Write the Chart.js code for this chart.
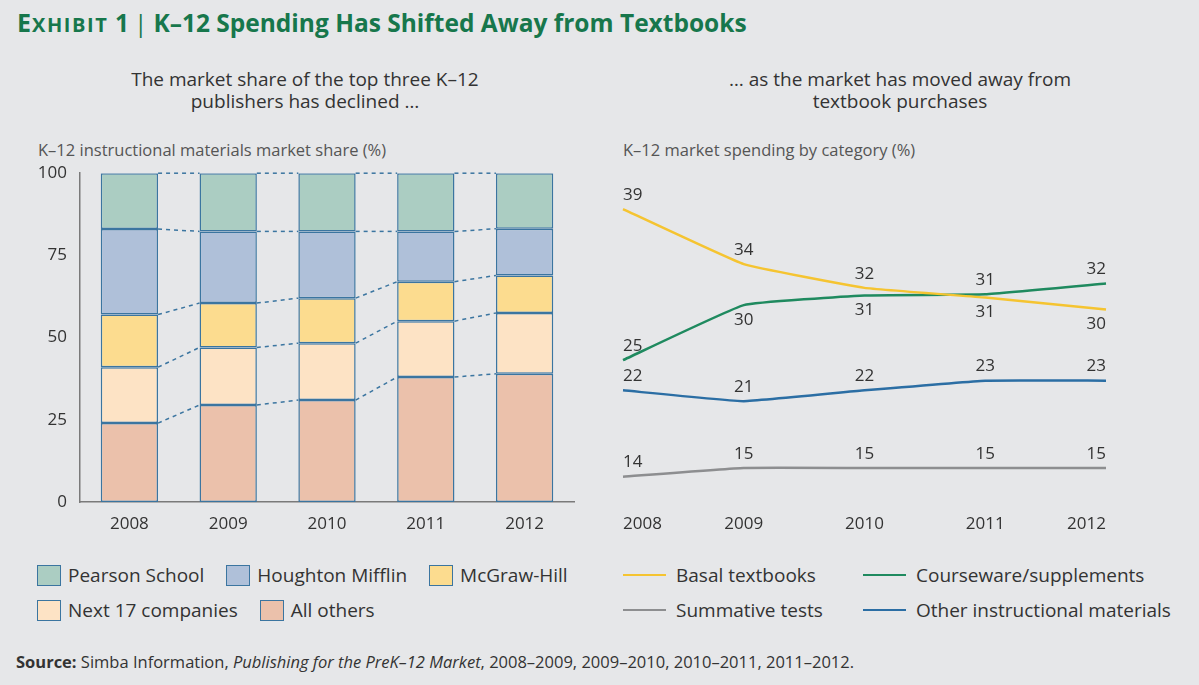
<!DOCTYPE html>
<html>
<head>
<meta charset="utf-8">
<script src="https://cdn.jsdelivr.net/npm/chart.js@4.4.1/dist/chart.umd.min.js"></script>
<style>
  body { margin: 0; background: #e6e7e9; font-family: "Open Sans", sans-serif; color: #333; }
  #page { position: relative; width: 1199px; height: 685px; overflow: hidden; background: #e6e7e9; }
  .abs { position: absolute; white-space: nowrap; }
  #title { left: 17px; top: 5px; font-size: 24.5px; font-weight: 700; color: #17774c; }
  #title .cap { font-size: 25px; letter-spacing: 1px; }
  #title .sc { font-size: 20px; letter-spacing: 1.6px; }
  #title .bar { font-weight: 400; margin: 0 6px 0 5px; }
  .sub { font-size: 19px; line-height: 22px; text-align: center; color: #333; }
  #subLeft { left: 105px; top: 68px; width: 400px; }
  #subRight { left: 700px; top: 68px; width: 400px; }
  .axTitle { font-size: 16.5px; color: #555; top: 138px; }
  #axLeft { left: 38px; }
  #axRight { left: 623px; }
  .wrap { position: absolute; }
  #wrapLeft { left: 0; top: 150px; width: 590px; height: 400px; }
  #wrapRight { left: 600px; top: 160px; width: 599px; height: 390px; }
  .legend { position: absolute; top: 563px; font-size: 19px; color: #333; }
  #legendLeft { left: 37px; }
  #legendRight { left: 623px; display: grid; grid-template-columns: 240px 330px; row-gap: 11px; }
  .lrow { display: flex; height: 24px; align-items: center; margin-bottom: 11px; }
  .litem { display: flex; align-items: center; margin-right: 22px; height: 24px; white-space: nowrap; }
  .box { width: 24px; height: 21px; border: 1.5px solid #3b75a0; box-sizing: border-box; margin-right: 7px; flex-shrink: 0; }
  .swatch { width: 43px; height: 2.5px; margin-right: 10px; flex-shrink: 0; }
  #source { left: 16px; top: 650px; font-size: 16.5px; color: #333; }
</style>
</head>
<body>
<div id="page">
  <div id="title" class="abs"><span class="cap">E</span><span class="sc">XHIBIT</span> 1<span class="bar">|</span>K–12 Spending Has Shifted Away from Textbooks</div>
  <div id="subLeft" class="abs sub">The market share of the top three K–12<br>publishers has declined …</div>
  <div id="subRight" class="abs sub">… as the market has moved away from<br>textbook purchases</div>
  <div id="axLeft" class="abs axTitle">K–12 instructional materials market share (%)</div>
  <div id="axRight" class="abs axTitle">K–12 market spending by category (%)</div>
  <div id="wrapLeft" class="wrap"><canvas id="shareChart"></canvas></div>
  <div id="wrapRight" class="wrap"><canvas id="spendChart"></canvas></div>
  <div id="legendLeft" class="legend"></div>
  <div id="legendRight" class="legend"></div>
  <div id="source" class="abs"><b>Source:</b> Simba Information, <i>Publishing for the PreK–12 Market</i>, 2008–2009, 2009–2010, 2010–2011, 2011–2012.</div>
</div>
<script>
const years = ['2008', '2009', '2010', '2011', '2012'];

// market share (%), listed from bottom of the stack up
const allOthers = [24, 29.5, 31, 38, 39];
const next17 = [17, 17.5, 17.3, 17, 18.5];
const mcgrawHill = [16, 13.5, 13.7, 12, 11.4];
const houghtonMifflin = [26, 21.8, 20.3, 15.3, 14.2];
const pearsonSchool = [17, 17.7, 17.7, 17.7, 16.9];
const shareTicks = [0, 25, 50, 75, 100];

// spending by category (%)
const basalTextbooks = [39, 33.9, 31.7, 30.8, 29.7];
const courseware = [25, 30.1, 31, 31.1, 32.1];
const summativeTests = [14.2, 15, 15, 15, 15];
const otherMaterials = [22.2, 21.2, 22.2, 23.1, 23.1];

// where each value label sits relative to its point
const basalSides = ['above', 'above', 'above', 'below', 'below'];
const coursewareSides = ['above', 'below', 'below', 'above', 'above'];
const summativeSides = ['above', 'above', 'above', 'above', 'above'];
const otherSides = ['above', 'above', 'above', 'above', 'above'];

const borderBlue = '#3b75a0';
const tickFont = { family: 'Open Sans', size: 17 };

// dashed connectors between the stack boundaries of neighbouring bars
const connectorPlugin = {
  id: 'connectors',
  afterDatasetsDraw(chart) {
    const ctx = chart.ctx;
    ctx.save();
    ctx.strokeStyle = borderBlue;
    ctx.lineWidth = 1.5;
    ctx.setLineDash([4, 4]);
    chart.data.datasets.forEach((ds, d) => {
      const bars = chart.getDatasetMeta(d).data;
      for (let i = 0; i < bars.length - 1; i++) {
        const a = bars[i], b = bars[i + 1];
        ctx.beginPath();
        ctx.moveTo(a.x + a.width / 2, a.y);
        ctx.lineTo(b.x - b.width / 2, b.y);
        ctx.stroke();
      }
    });
    ctx.restore();
  }
};

const valueLabelPlugin = {
  id: 'valueLabels',
  afterDatasetsDraw(chart) {
    const ctx = chart.ctx;
    ctx.save();
    ctx.font = '17px "Open Sans"';
    ctx.fillStyle = '#333';
    ctx.textBaseline = 'middle';
    chart.data.datasets.forEach((ds, d) => {
      const pts = chart.getDatasetMeta(d).data;
      pts.forEach((p, i) => {
        const last = pts.length - 1;
        ctx.textAlign = i === 0 ? 'left' : (i === last ? 'right' : 'center');
        const dy = ds.labelSides[i] === 'above' ? -14 : 15;
        ctx.fillText(Math.round(ds.data[i]), p.x, p.y + dy);
      });
    });
    ctx.restore();
  }
};

const shareChart = new Chart(document.getElementById('shareChart'), {
  type: 'bar',
  data: {
    labels: years,
    datasets: [
      { label: 'All others', data: allOthers, backgroundColor: '#ebc1ab' },
      { label: 'Next 17 companies', data: next17, backgroundColor: '#fde3c5' },
      { label: 'McGraw-Hill', data: mcgrawHill, backgroundColor: '#fcdc8f' },
      { label: 'Houghton Mifflin', data: houghtonMifflin, backgroundColor: '#afc0d9' },
      { label: 'Pearson School', data: pearsonSchool, backgroundColor: '#abcdc2' }
    ].map(ds => Object.assign(ds, {
      borderColor: borderBlue, borderWidth: 1.5, borderSkipped: false,
      barPercentage: 0.58, categoryPercentage: 1
    }))
  },
  options: {
    responsive: true,
    maintainAspectRatio: false,
    animation: false,
    layout: { padding: { top: 3, right: 16, left: 0, bottom: 0 } },
    plugins: { legend: { display: false }, tooltip: { enabled: false } },
    scales: {
      x: {
        stacked: true,
        grid: { display: false, drawTicks: false },
        border: { color: '#7a7a7a', width: 1.5 },
        ticks: { color: '#333', font: tickFont, padding: 12 },
        afterFit: s => { s.height = 48; }
      },
      y: {
        stacked: true,
        min: 0,
        max: 100,
        grid: { display: false, drawTicks: false },
        border: { color: '#7a7a7a', width: 1.5 },
        afterBuildTicks: s => { s.ticks = shareTicks.map(v => ({ value: v })); },
        ticks: { color: '#333', font: tickFont, padding: 13 },
        afterFit: s => { s.width = 80; }
      }
    }
  },
  plugins: [connectorPlugin]
});

const spendChart = new Chart(document.getElementById('spendChart'), {
  type: 'line',
  data: {
    labels: years,
    datasets: [
      { label: 'Basal textbooks', data: basalTextbooks, borderColor: '#f5c431', labelSides: basalSides },
      { label: 'Courseware/supplements', data: courseware, borderColor: '#1f8a5f', labelSides: coursewareSides },
      { label: 'Summative tests', data: summativeTests, borderColor: '#8d8e90', labelSides: summativeSides },
      { label: 'Other instructional materials', data: otherMaterials, borderColor: '#2b6ea4', labelSides: otherSides }
    ].map(ds => Object.assign(ds, { borderWidth: 2.5, pointRadius: 0, tension: 0.1, fill: false }))
  },
  options: {
    responsive: true,
    maintainAspectRatio: false,
    animation: false,
    layout: { padding: { top: 13, right: 93, left: 23, bottom: 0 } },
    plugins: { legend: { display: false }, tooltip: { enabled: false } },
    scales: {
      x: {
        grid: { display: false, drawTicks: false },
        border: { display: false },
        ticks: { color: '#333', font: tickFont, padding: 12, align: 'inner', maxRotation: 0 },
        afterFit: s => { s.height = 48; }
      },
      y: { display: false, min: 11.85, max: 42.35 }
    }
  },
  plugins: [valueLabelPlugin]
});

// legends built from the charts' datasets
function boxItem(ds) {
  return '<div class="litem"><div class="box" style="background:' + ds.backgroundColor + '"></div>' + ds.label + '</div>';
}
const sd = shareChart.data.datasets;
document.getElementById('legendLeft').innerHTML =
  '<div class="lrow">' + [4, 3, 2].map(i => boxItem(sd[i])).join('') + '</div>' +
  '<div class="lrow">' + [1, 0].map(i => boxItem(sd[i])).join('') + '</div>';

document.getElementById('legendRight').innerHTML = spendChart.data.datasets.map(ds =>
  '<div class="litem"><div class="swatch" style="background:' + ds.borderColor + '"></div>' + ds.label + '</div>'
).join('');
</script>
</body>
</html>
